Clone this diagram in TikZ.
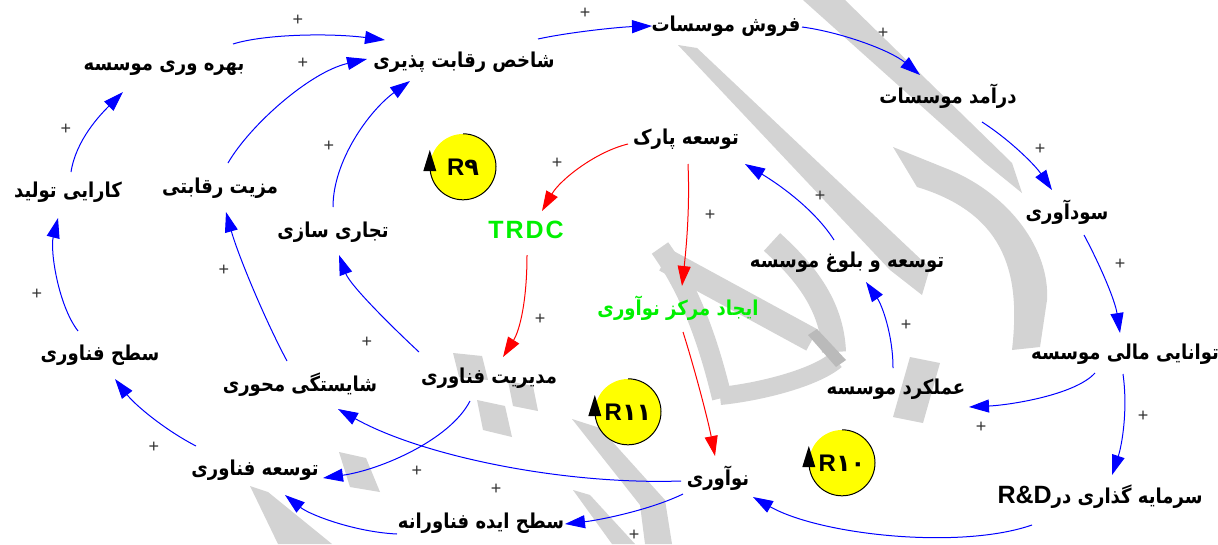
\documentclass[tikz,border=0pt]{standalone}
\usepackage{fontspec}
\setmainfont{Liberation Sans}
\newfontfamily\fa[Script=Arabic]{DejaVu Sans}
\newfontfamily\fan[Script=Arabic,FakeStretch=0.88]{DejaVu Sans}
\TeXXeTstate=1
\usetikzlibrary{arrows.meta}
\definecolor{lgreen}{RGB}{0,240,0}
\definecolor{pblue}{RGB}{0,0,255}
\definecolor{pred}{RGB}{255,0,0}
\definecolor{pyellow}{RGB}{255,255,0}
\definecolor{wmgray}{RGB}{211,211,211}
\definecolor{wmdark}{RGB}{186,186,186}
\tikzset{
  lbl/.style={font=\fan\bfseries\fontsize{20.5}{22}\selectfont, inner sep=2pt, text=black},
  glbl/.style={lbl, text=lgreen},
  latin/.style={font=\bfseries\fontsize{25}{26}\selectfont, inner sep=2pt},
  be/.style={draw=pblue, line width=1pt, -{Triangle[length=20pt,width=13pt]}, fill=none},
  re/.style={be, draw=pred},
  pl/.style={font=\fontsize{18}{18}\selectfont, text=black!80, inner sep=0pt},
  loopc/.style={circle, fill=pyellow, minimum size=66pt, inner sep=0pt, font=\bfseries\fontsize{24}{24}\selectfont},
  looparc/.style={draw=black, line width=1pt},
  wm/.style={fill=wmgray, draw=none},
  wms/.style={draw=wmgray}
}
\begin{document}
\begin{tikzpicture}[x=1pt,y=-1pt]
\useasboundingbox[fill=white] (0,0) rectangle (1218,544);

% watermark (background)
\fill[wm] (803,0) -- (845,0) -- (1012,163) -- (1022,193) -- (985,163) -- cycle;
\fill[wm] (678,45) -- (697,48) -- (930,268) -- (922,295) -- (890,270) -- cycle;
\fill[wm] (893,147) -- (950,170) .. controls (1010,195) and (1050,250) .. (1047,300) -- (1040,347) -- (1012,350) .. controls (1020,280) and (1010,215) .. (917,187) -- cycle;
\draw[wms, line width=20pt] (660,248) .. controls (690,290) and (708,340) .. (722,398);
\draw[wms, line width=24pt] (665,260) -- (812,340);
\draw[wms, line width=24pt] (772,242) .. controls (805,272) and (832,305) .. (834,352);
\draw[wms, line width=18pt] (720,396) .. controls (760,392) and (815,378) .. (836,360);
\fill[wmdark] (808,335) -- (817,329) -- (846,360) -- (836,367) -- cycle;
\fill[wm] (910,357) -- (940,363) -- (923,423) -- (893,417) -- cycle;
\fill[wm] (453,353) -- (482,356) -- (488,380) -- (459,377) -- cycle;
\fill[wm] (508,381) -- (533,386) -- (538,411) -- (513,406) -- cycle;
\fill[wm] (477,400) -- (505,406) -- (512,437) -- (483,430) -- cycle;
\fill[wm] (339,452) -- (366,458) -- (380,492) -- (350,487) -- cycle;
\fill[wm] (250,486) -- (268,492) -- (332,544) -- (278,544) -- cycle;
\fill[wm] (572,419) -- (600,428) -- (665,500) -- (672,544) -- (645,544) -- (640,505) -- cycle;
\fill[wm] (573,490) -- (590,495) -- (635,544) -- (612,544) -- cycle;

% nodes
\node[lbl] (fr) at (726,26) {\beginR فروش موسسات\endR};
\node[lbl] (sh) at (464,62) {\beginR شاخص رقابت پذیری\endR};
\node[lbl] (bv) at (164,68) {\beginR بهره وری موسسه\endR};
\node[lbl] (da) at (948,96) {\beginR درآمد موسسات\endR};
\node[lbl] (sd) at (1067,212) {\beginR سودآوری\endR};
\node[lbl] (tm) at (1125,354) {\beginR توانایی مالی موسسه\endR};
\node[lbl] (sg) at (1100,497) {\beginR سرمایه گذاری در\beginL{\normalfont\bfseries\fontsize{25}{26}\selectfont R\&D}\endL\endR};
\node[lbl] (am) at (896,389) {\beginR عملکرد موسسه\endR};
\node[lbl] (tb) at (847,262) {\beginR توسعه و بلوغ موسسه\endR};
\node[lbl] (tp) at (686,139) {\beginR توسعه پارک\endR};
\node[latin, text=lgreen] (trdc) at (526,230) {T\kern2pt R\kern2pt D\kern2pt C};
\node[glbl] (im) at (678,308) {\beginR ایجاد مرکز نوآوری\endR};
\node[lbl] (nv) at (718,478) {\beginR نوآوری\endR};
\node[lbl] (mf) at (489,378) {\beginR مدیریت فناوری\endR};
\node[lbl] (ts) at (333,232) {\beginR تجاری سازی\endR};
\node[lbl] (mr) at (220,188) {\beginR مزیت رقابتی\endR};
\node[lbl] (kt) at (68,192) {\beginR کارایی تولید\endR};
\node[lbl] (sf) at (100,355) {\beginR سطح فناوری\endR};
\node[lbl] (sm) at (300,385) {\beginR شایستگی محوری\endR};
\node[lbl] (tf) at (255,470) {\beginR توسعه فناوری\endR};
\node[lbl] (si) at (481,523) {\beginR سطح ایده فناورانه\endR};

% loop markers
\node[loopc] (l9) at (463,167) {R{\fa ۹}};
\node[loopc] (l11) at (628,412) {R{\fa ۱۱}};
\node[loopc] (l10) at (842,463) {R{\fa ۱۰}};
\foreach \c in {l9,l11,l10}{
  \draw[looparc] (\c.north) arc[start angle=270,end angle=540,radius=33];
  \fill (\c.west) ++(-6.5,4) -- ++(13,0) -- ++(-6.5,-21) -- cycle;
}

% blue links
\draw[be] ([shift={(69,-24)}]bv.center) .. controls (265,34) and (330,33) .. ([shift={(-79,-22)}]sh.center);
\draw[be] ([shift={(8,-25)}]mr.center) .. controls (250,125) and (310,72) .. ([shift={(-97,-3)}]sh.center);
\draw[be] ([shift={(0,-25)}]ts.center) .. controls (333,160) and (370,110) .. ([shift={(-54,19)}]sh.center);
\draw[be] ([shift={(3,-20)}]kt.center) .. controls (76,140) and (100,115) .. ([shift={(-41,24)}]bv.center);
\draw[be] ([shift={(-22,-24)}]sf.center) .. controls (58,305) and (50,250) .. ([shift={(-10,26)}]kt.center);
\draw[be] ([shift={(-13,-24)}]sm.center) .. controls (265,320) and (238,255) .. ([shift={(6,24)}]mr.center);
\draw[be] ([shift={(-70,-26)}]mf.center) .. controls (390,325) and (350,285) .. ([shift={(6,23)}]ts.center);
\draw[be] ([shift={(-59,-24)}]tf.center) .. controls (165,430) and (135,405) .. ([shift={(15,24)}]sf.center);
\draw[be] ([shift={(-19,23)}]mf.center) .. controls (450,440) and (380,470) .. ([shift={(68,8)}]tf.center);
\draw[be] ([shift={(-37,3)}]nv.center) .. controls (560,485) and (420,455) .. ([shift={(38,24)}]sm.center);
\draw[be] ([shift={(-35,16)}]nv.center) .. controls (650,510) and (600,520) .. ([shift={(84,1)}]si.center);
\draw[be] ([shift={(-84,11)}]si.center) .. controls (355,532) and (310,515) .. ([shift={(30,25)}]tf.center);
\draw[be] ([shift={(-68,28)}]sg.center) .. controls (960,550) and (820,535) .. ([shift={(35,19)}]nv.center);
\draw[be] ([shift={(-30,19)}]tm.center) .. controls (1075,395) and (1010,405) .. ([shift={(73,18)}]am.center);
\draw[be] ([shift={(-2,20)}]tm.center) .. controls (1128,410) and (1122,445) .. ([shift={(12,-22)}]sg.center);
\draw[be] ([shift={(-3,-21)}]am.center) .. controls (893,335) and (882,305) .. ([shift={(19,20)}]tb.center);
\draw[be] ([shift={(-13,-22)}]tb.center) .. controls (815,210) and (780,185) .. ([shift={(59,25)}]tp.center);
\draw[be] ([shift={(17,23)}]sd.center) .. controls (1100,265) and (1115,300) .. ([shift={(-5,-21)}]tm.center);
\draw[be] ([shift={(34,26)}]da.center) .. controls (1010,140) and (1035,165) .. ([shift={(-15,-22)}]sd.center);
\draw[be] ([shift={(76,1)}]fr.center) .. controls (840,32) and (890,50) .. ([shift={(-28,-21)}]da.center);
\draw[be] ([shift={(74,-23)}]sh.center) .. controls (570,32) and (620,27) .. ([shift={(-74,0)}]fr.center);

% red links
\draw[re] ([shift={(-58,5)}]tp.center) .. controls (595,152) and (560,180) .. ([shift={(16,-19)}]trdc.center);
\draw[re] ([shift={(2,25)}]tp.center) .. controls (690,210) and (686,250) .. ([shift={(4,-22)}]im.center);
\draw[re] ([shift={(1,25)}]trdc.center) .. controls (527,300) and (520,330) .. ([shift={(14,-21)}]mf.center);
\draw[re] ([shift={(5,24)}]im.center) .. controls (695,370) and (708,420) .. ([shift={(-3,-22)}]nv.center);

% polarity signs
\node[pl] (p1) at (298,20) {+};
\node[pl] (p2) at (585,13) {+};
\node[pl] (p3) at (883,33) {+};
\node[pl] (p4) at (303,63) {+};
\node[pl] (p5) at (66,129) {+};
\node[pl] (p6) at (329,146) {+};
\node[pl] (p7) at (557,163) {+};
\node[pl] (p8) at (1040,149) {+};
\node[pl] (p9) at (820,196) {+};
\node[pl] (p10) at (710,215) {+};
\node[pl] (p11) at (1120,264) {+};
\node[pl] (p12) at (37,294) {+};
\node[pl] (p13) at (224,270) {+};
\node[pl] (p14) at (540,319) {+};
\node[pl] (p15) at (367,342) {+};
\node[pl] (p16) at (906,325) {+};
\node[pl] (p17) at (154,447) {+};
\node[pl] (p18) at (1143,416) {+};
\node[pl] (p19) at (981,427) {+};
\node[pl] (p20) at (417,471) {+};
\node[pl] (p21) at (496,489) {+};
\node[pl] (p22) at (634,535) {+};
\end{tikzpicture}
\end{document}
